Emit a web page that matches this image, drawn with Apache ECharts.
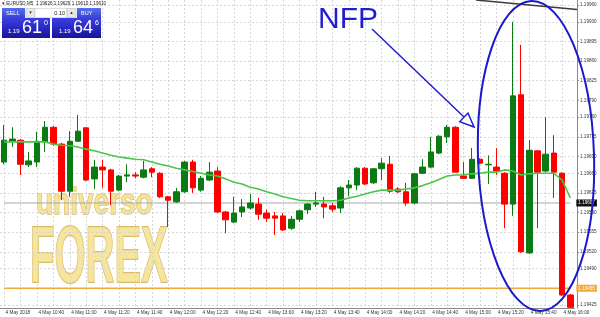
<!DOCTYPE html>
<html><head><meta charset="utf-8">
<script src="https://cdn.jsdelivr.net/npm/echarts@6/dist/echarts.min.js"></script>
<style>html,body{margin:0;padding:0;background:#fff}#c{width:600px;height:317px}</style>
</head><body><div id="c"></div>
<script>
const headerText = 'EURUSD,M5  1.19626 1.19629 1.19610 1.19610';
const dateLabel = '4 May 2018';
const dayPrefix = '4 May ';
const categories = ['10:20','10:25','10:30','10:35','10:40','10:45','10:50','10:55',
'11:00','11:05','11:10','11:15','11:20','11:25','11:30','11:35','11:40','11:45','11:50','11:55',
'12:00','12:05','12:10','12:15','12:20','12:25','12:30','12:35','12:40','12:45','12:50','12:55',
'13:00','13:05','13:10','13:15','13:20','13:25','13:30','13:35','13:40','13:45','13:50','13:55',
'14:00','14:05','14:10','14:15','14:20','14:25','14:30','14:35','14:40','14:45','14:50','14:55',
'15:00','15:05','15:10','15:15','15:20','15:25','15:30','15:35','15:40','15:45','15:50','15:55',
'16:00','16:05'];
const opens = [1.19680,1.19717,1.19719,1.19675,1.19680,1.19716,1.19742,1.19712,1.19628,1.19717,
1.19741,1.19650,1.19671,1.19666,1.19630,1.19655,1.19657,1.19653,1.19668,1.19660,
1.19618,1.19609,1.19627,1.19680,1.19630,1.19648,1.19664,1.19591,1.19573,1.19591,
1.19598,1.19605,1.19589,1.19584,1.19584,1.19562,1.19578,1.19595,1.19605,1.19605,
1.19602,1.19598,1.19634,1.19639,1.19669,1.19643,1.19668,1.19676,1.19632,1.19627,
1.19607,1.19660,1.19671,1.19696,1.19725,1.19742,1.19655,1.19651,1.19685,1.19675,
1.19671,1.19660,1.19605,1.19800,1.19518,1.19700,1.19664,1.19696,1.19660,1.19443];
const closes = [1.19719,1.19721,1.19676,1.19682,1.19717,1.19742,1.19712,1.19628,1.19717,1.19735,
1.19648,1.19671,1.19666,1.19628,1.19655,1.19657,1.19655,1.19666,1.19662,1.19618,
1.19612,1.19627,1.19680,1.19634,1.19651,1.19662,1.19591,1.19577,1.19589,1.19600,
1.19607,1.19587,1.19580,1.19580,1.19559,1.19578,1.19593,1.19605,1.19607,1.19600,
1.19596,1.19634,1.19639,1.19669,1.19641,1.19668,1.19678,1.19628,1.19627,1.19607,
1.19659,1.19671,1.19698,1.19726,1.19742,1.19662,1.19651,1.19685,1.19678,1.19676,
1.19664,1.19605,1.19798,1.19520,1.19701,1.19662,1.19694,1.19662,1.19443,1.19421];
const lows = [1.19676,1.19707,1.19657,1.19671,1.19671,1.19698,1.19709,1.19612,1.19618,1.19716,
1.19646,1.19632,1.19634,1.19603,1.19628,1.19644,1.19651,1.19651,1.19653,1.19616,
1.19564,1.19607,1.19625,1.19625,1.19627,1.19646,1.19589,1.19553,1.19571,1.19582,
1.19595,1.19577,1.19573,1.19550,1.19557,1.19559,1.19573,1.19587,1.19600,1.19580,
1.19591,1.19589,1.19619,1.19630,1.19639,1.19641,1.19648,1.19625,1.19625,1.19602,
1.19605,1.19659,1.19669,1.19694,1.19714,1.19662,1.19650,1.19650,1.19676,1.19641,
1.19657,1.19562,1.19584,1.19518,1.19516,1.19562,1.19662,1.19616,1.19441,1.19420];
const highs = [1.19746,1.19742,1.19721,1.19698,1.19734,1.19753,1.19744,1.19714,1.19735,1.19764,
1.19742,1.19684,1.19684,1.19668,1.19657,1.19676,1.19662,1.19682,1.19671,1.19662,
1.19619,1.19634,1.19682,1.19684,1.19655,1.19680,1.19671,1.19593,1.19618,1.19614,
1.19623,1.19616,1.19595,1.19591,1.19589,1.19584,1.19595,1.19607,1.19627,1.19618,
1.19607,1.19637,1.19648,1.19671,1.19671,1.19669,1.19687,1.19691,1.19635,1.19643,
1.19660,1.19685,1.19725,1.19728,1.19746,1.19744,1.19680,1.19705,1.19687,1.19692,
1.19705,1.19662,1.19930,1.19889,1.19719,1.19701,1.19760,1.19728,1.19662,1.19445];
const maValues = [1.19716,1.19716,1.19716,1.19716,1.19716,1.19716,1.19712,1.19710,1.19709,1.19707,
1.19703,1.19700,1.19696,1.19692,1.19689,1.19687,1.19685,1.19684,1.19680,1.19676,
1.19673,1.19669,1.19666,1.19663,1.19660,1.19657,1.19655,1.19650,1.19644,1.19641,
1.19635,1.19632,1.19627,1.19623,1.19618,1.19615,1.19612,1.19611,1.19611,1.19611,
1.19611,1.19612,1.19616,1.19619,1.19623,1.19627,1.19630,1.19630,1.19630,1.19632,
1.19634,1.19638,1.19643,1.19649,1.19655,1.19657,1.19657,1.19659,1.19660,1.19662,
1.19662,1.19666,1.19664,1.19657,1.19659,1.19660,1.19660,1.19660,1.19648,1.19616];
const yTickValues = [1.19960,1.19930,1.19895,1.19860,1.19825,1.19790,1.19760,1.19725,1.19690,
1.19660,1.19625,1.19590,1.19555,1.19520,1.19490,1.19425];
const bidPrice = 1.19607;
const levelPrice = 1.19455;
const sellBig = '61', sellSup = '0', buyBig = '64', buySup = '6', pricePrefix = '1.19', lotText = '0.10';

const candleData = opens.map((o, i) => [o, closes[i], lows[i], highs[i]]);
const FONT = 'Liberation Sans';
const chart = echarts.init(document.getElementById('c'), null, {renderer: 'canvas'});
const blueGrad = new echarts.graphic.LinearGradient(0, 0, 0, 1, [
  {offset: 0, color: '#3d3de6'}, {offset: 1, color: '#15159c'}]);
const headGrad = new echarts.graphic.LinearGradient(0, 0, 0, 1, [
  {offset: 0, color: '#5a6ff0'}, {offset: 1, color: '#3345cc'}]);

chart.setOption({
  animation: false,
  backgroundColor: '#ffffff',
  grid: {left: -4.13, right: 25.58, top: 0, bottom: 9, containLabel: false},
  xAxis: {
    type: 'category', data: categories, boundaryGap: true,
    axisLine: {lineStyle: {color: '#8a8a8a', width: 1}},
    axisTick: {interval: 3, alignWithLabel: true, length: 2, lineStyle: {color: '#8a8a8a'}},
    axisLabel: {interval: 3, align: 'left', fontSize: 4.7, margin: 2, color: '#333',
      fontFamily: FONT, padding: [0, 0, 0, 1.5],
      formatter: (v, i) => i === 0 ? dateLabel : dayPrefix + v},
    splitLine: {show: true, interval: 1, alignWithLabel: true,
      lineStyle: {color: '#d6d6d6', type: [2, 2], width: 1}}
  },
  yAxis: {
    type: 'value', position: 'right', offset: 2.58,
    min: 1.194198, max: 1.199689, scale: true,
    axisLine: {show: true, lineStyle: {color: '#8a8a8a', width: 1}},
    axisTick: {show: true, length: 2, customValues: yTickValues, lineStyle: {color: '#8a8a8a'}},
    axisLabel: {customValues: yTickValues, fontSize: 4.6, margin: 3, color: '#333', fontFamily: FONT,
      formatter: v => v.toFixed(5)},
    splitLine: {show: true, lineStyle: {color: '#d6d6d6', type: [2, 2], width: 1}}
  },
  series: [
    {
      type: 'line', data: categories.map((c, i) => [c, bidPrice]), symbol: 'none', silent: true,
      lineStyle: {color: '#a8a8a8', width: 1}, z: 1,
      endLabel: {show: true, formatter: bidPrice.toFixed(5), fontSize: 4.6, distance: 6,
        color: '#fff', backgroundColor: '#111', padding: [1, 2, 1, 2], fontFamily: FONT}
    },
    {
      type: 'line', data: categories.map((c, i) => [c, levelPrice]), symbol: 'none', silent: true,
      lineStyle: {color: '#f3a83b', width: 1.5}, z: 1,
      endLabel: {show: true, formatter: levelPrice.toFixed(5), fontSize: 4.6, distance: 6,
        color: '#fff', backgroundColor: '#f3a83b', padding: [1, 2, 1, 2], fontFamily: FONT}
    },
    {
      type: 'candlestick', data: candleData, barWidth: 6, clip: true, z: 2,
      itemStyle: {color: '#0b7a12', color0: '#ff0000', borderColor: '#0b7a12', borderColor0: '#ff0000', borderWidth: 1}
    },
    {
      type: 'line', data: maValues, symbol: 'none', smooth: false,
      lineStyle: {color: '#49c649', width: 1.6}, z: 3
    }
  ],
  graphic: [
    // watermark
    {type: 'text', x: 36, y: 222, scaleY: 1.35, z: 0, style: {x: 0, y: 0, text: 'universo',
      fontSize: 28, fontWeight: 'bold', fontFamily: FONT, fill: '#f4e08e', stroke: '#d3b14f', lineWidth: 1,
      verticalAlign: 'bottom', opacity: 0.85}},
    {type: 'text', x: 30, y: 300, scaleY: 2.0, z: 0, style: {x: 0, y: 0, text: 'FOREX',
      fontSize: 40, fontWeight: 'bold', fontFamily: FONT, fill: '#f4e08e', stroke: '#d3b14f', lineWidth: 1,
      verticalAlign: 'bottom', opacity: 0.85}},
    // header
    {type: 'text', z: 50, style: {x: 2, y: 1, text: '\u25BE ' + headerText, fontSize: 4.6, fill: '#222',
      fontFamily: FONT, verticalAlign: 'top'}},
    // trade panel
    {type: 'rect', z: 50, shape: {x: 2, y: 8, width: 23, height: 10}, style: {fill: headGrad}},
    {type: 'text', z: 51, style: {x: 6, y: 13, text: 'SELL', fontSize: 5.5, fill: '#fff', fontFamily: FONT, verticalAlign: 'middle'}},
    {type: 'rect', z: 50, shape: {x: 26, y: 8.5, width: 9, height: 9}, style: {fill: '#e8e8e8', stroke: '#b0b0b0', lineWidth: 0.5}},
    {type: 'text', z: 51, style: {x: 30.5, y: 13, text: '\u25BE', fontSize: 5, fill: '#333', fontFamily: 'DejaVu Sans', align: 'center', verticalAlign: 'middle'}},
    {type: 'rect', z: 50, shape: {x: 35, y: 8.5, width: 32, height: 9}, style: {fill: '#ffffff', stroke: '#c0c0c0', lineWidth: 0.5}},
    {type: 'text', z: 51, style: {x: 65, y: 13, text: lotText, fontSize: 5.5, fill: '#222', fontFamily: FONT, align: 'right', verticalAlign: 'middle'}},
    {type: 'rect', z: 50, shape: {x: 67, y: 8.5, width: 9, height: 9}, style: {fill: '#e8e8e8', stroke: '#b0b0b0', lineWidth: 0.5}},
    {type: 'text', z: 51, style: {x: 71.5, y: 13, text: '\u25B4', fontSize: 5, fill: '#333', fontFamily: 'DejaVu Sans', align: 'center', verticalAlign: 'middle'}},
    {type: 'rect', z: 50, shape: {x: 77, y: 8, width: 24, height: 10}, style: {fill: headGrad}},
    {type: 'text', z: 51, style: {x: 81, y: 13, text: 'BUY', fontSize: 5.5, fill: '#fff', fontFamily: FONT, verticalAlign: 'middle'}},
    {type: 'rect', z: 50, shape: {x: 2, y: 18, width: 48, height: 20}, style: {fill: blueGrad}},
    {type: 'rect', z: 50, shape: {x: 52, y: 18, width: 49, height: 20}, style: {fill: blueGrad}},
    {type: 'text', z: 51, style: {x: 8, y: 34, text: pricePrefix, fontSize: 6, fill: '#fff', fontFamily: FONT, verticalAlign: 'bottom'}},
    {type: 'text', z: 51, style: {x: 22, y: 37, text: sellBig, fontSize: 18, fill: '#fff', fontFamily: FONT, verticalAlign: 'bottom'}},
    {type: 'text', z: 51, style: {x: 44, y: 20, text: sellSup, fontSize: 7, fill: '#fff', fontFamily: FONT, verticalAlign: 'top'}},
    {type: 'text', z: 51, style: {x: 59, y: 34, text: pricePrefix, fontSize: 6, fill: '#fff', fontFamily: FONT, verticalAlign: 'bottom'}},
    {type: 'text', z: 51, style: {x: 73, y: 37, text: buyBig, fontSize: 18, fill: '#fff', fontFamily: FONT, verticalAlign: 'bottom'}},
    {type: 'text', z: 51, style: {x: 95, y: 20, text: buySup, fontSize: 7, fill: '#fff', fontFamily: FONT, verticalAlign: 'top'}},
    // trend line top right
    {type: 'line', z: 60, shape: {x1: 476, y1: 0, x2: 577, y2: 9.5}, style: {stroke: '#3a3a3a', lineWidth: 1.5}},
    // NFP annotation
    {type: 'text', z: 100, style: {x: 318, y: 5, text: 'NFP', fontSize: 30, fill: '#1f1fd0', fontFamily: FONT, verticalAlign: 'top'}},
    {type: 'line', z: 100, shape: {x1: 372, y1: 29, x2: 464, y2: 117}, style: {stroke: '#1f1fd0', lineWidth: 1.5}},
    {type: 'polygon', z: 100, shape: {points: [[474, 127], [459.8, 121.6], [468, 113]]}, style: {fill: '#ffffff', stroke: '#1f1fd0', lineWidth: 1.5}},
    {type: 'ellipse', z: 100, rotation: 0.03, originX: 536, originY: 156,
      shape: {cx: 536, cy: 156, rx: 58, ry: 155}, style: {fill: 'none', stroke: '#1a1acc', lineWidth: 2}}
  ]
});
</script></body></html>
